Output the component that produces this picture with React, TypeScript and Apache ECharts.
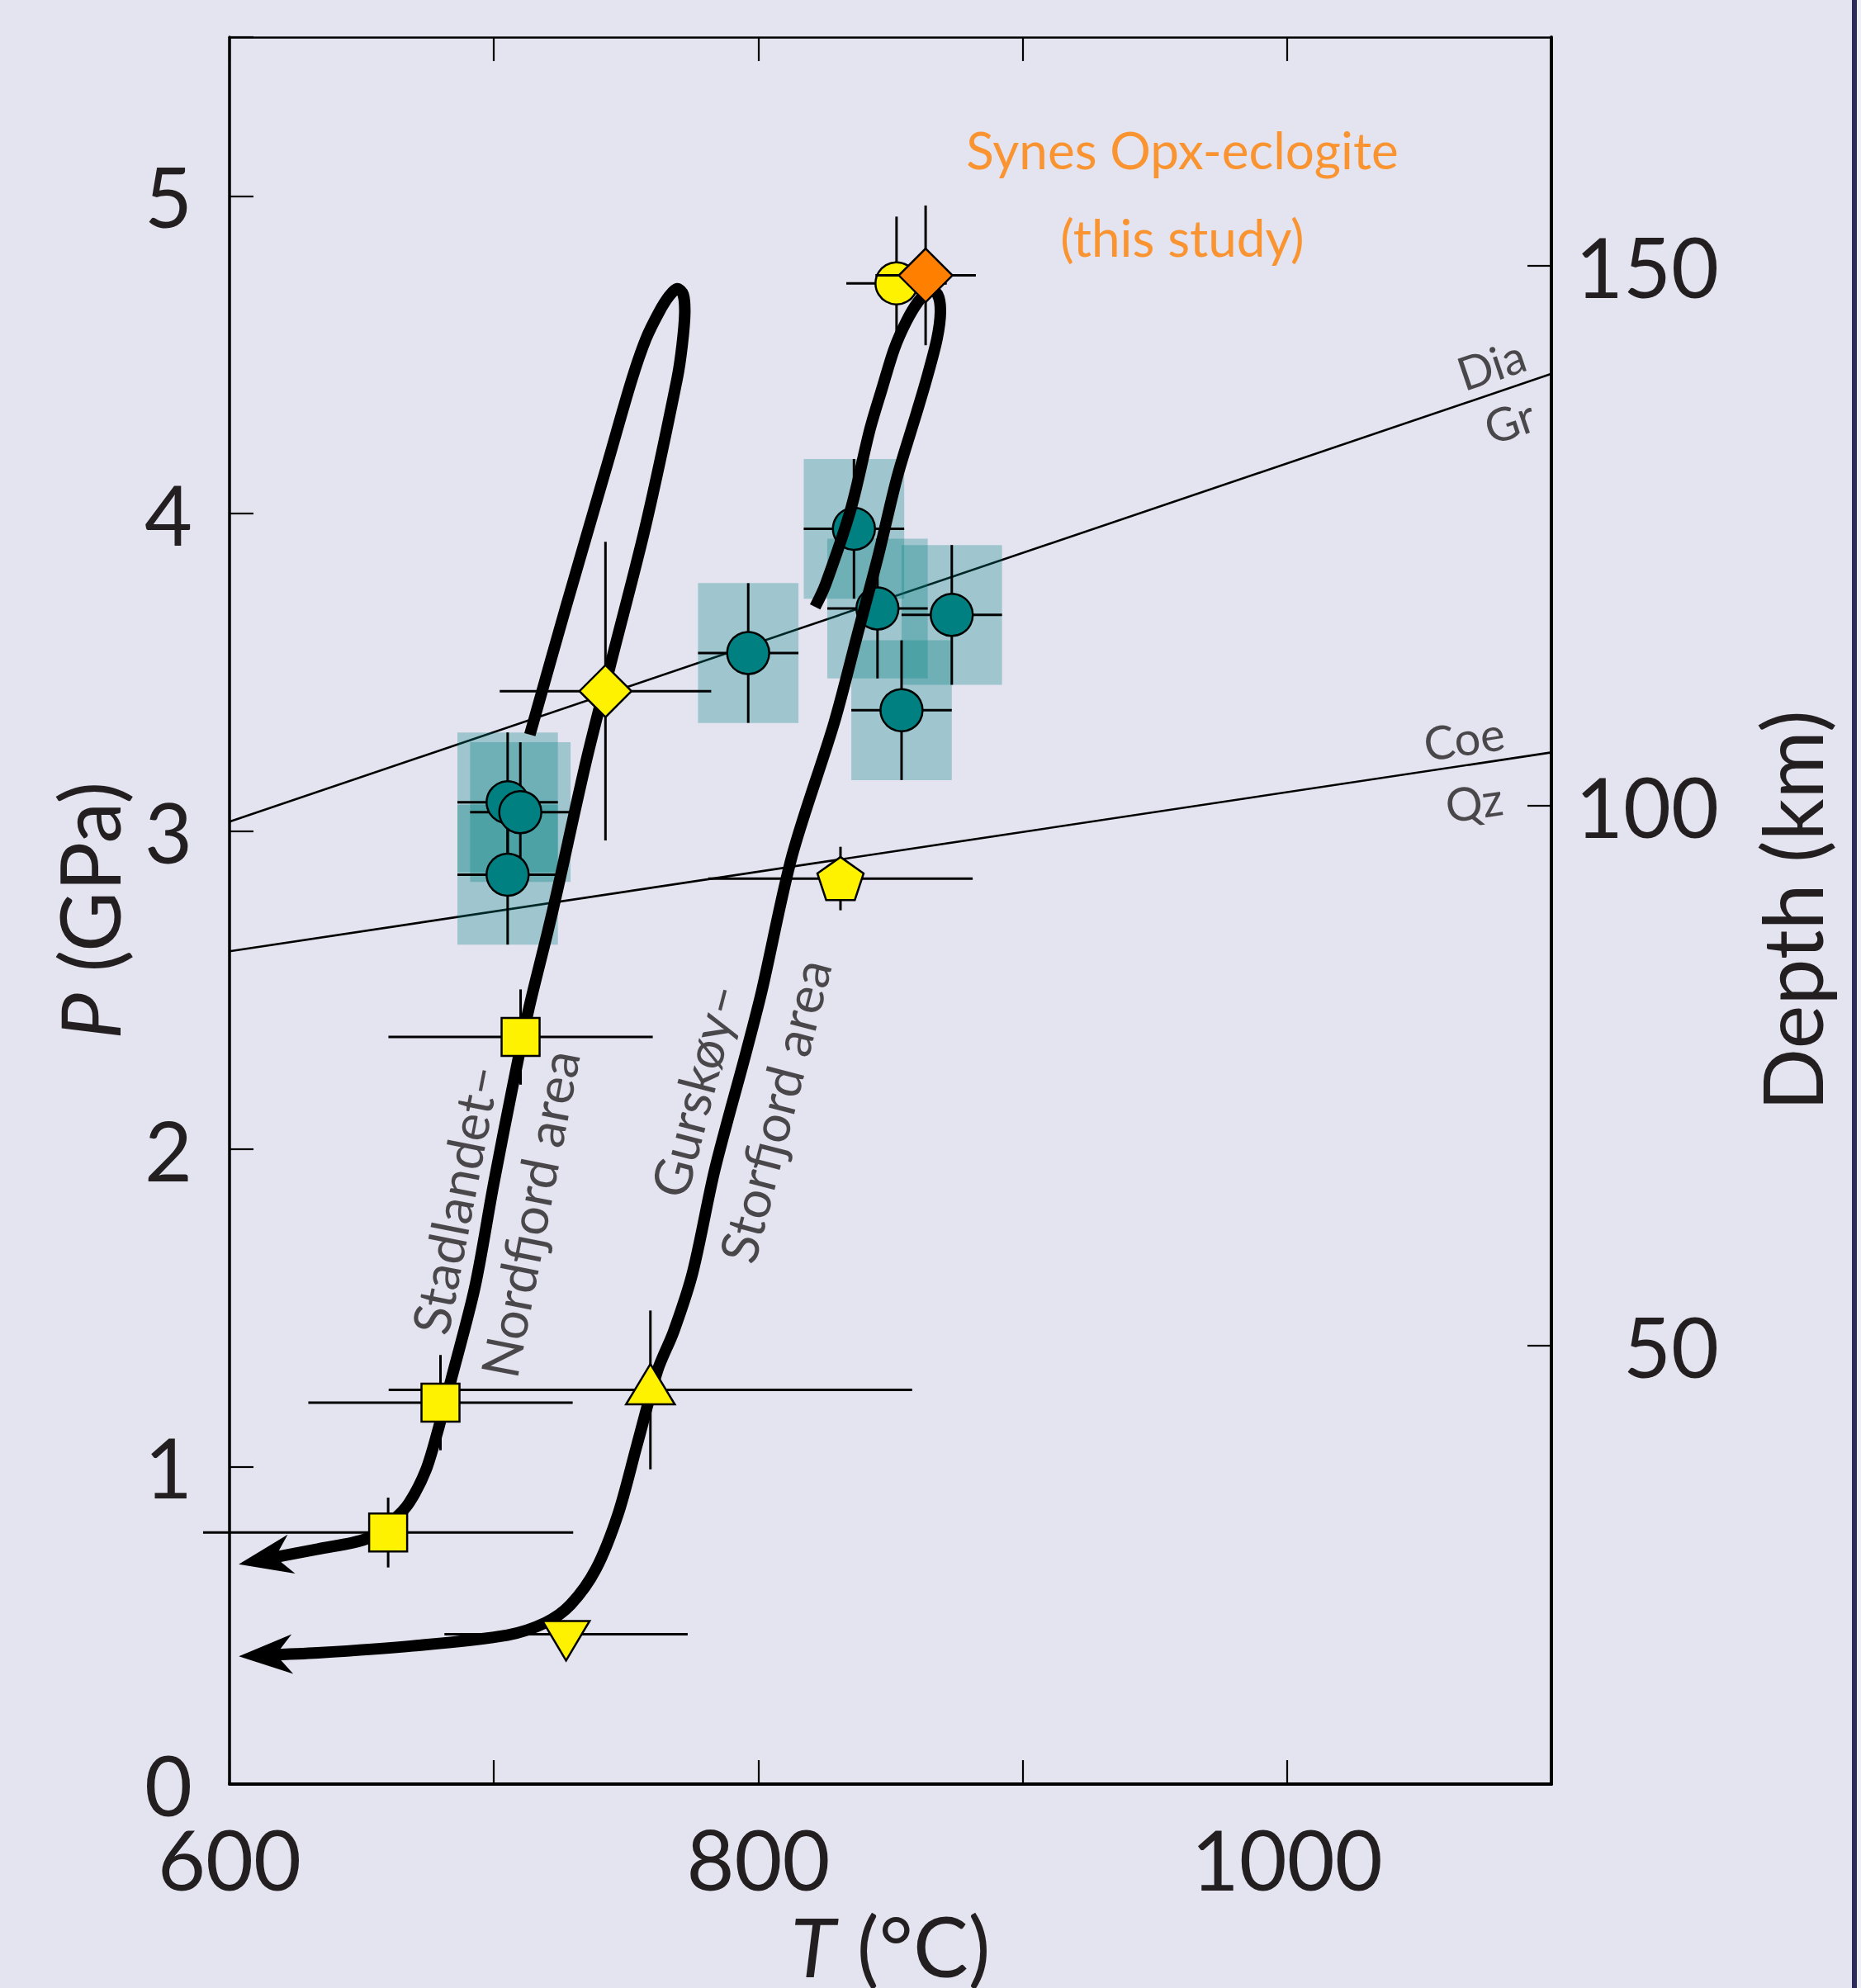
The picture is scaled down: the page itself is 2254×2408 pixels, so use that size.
import React, { useEffect, useRef } from 'react';
import * as echarts from 'echarts';

const WIDTH = 2254;
const HEIGHT = 2408;
const FONT = 'Lato, "Noto Sans", sans-serif';
const INK = '#231F20';
const BG = '#E4E3F0';
const YELLOW = '#FFF200';
const TEAL = '#008080';
const TEAL_BOX = 'rgba(0,128,128,0.3)';
const ORANGE = '#FF7F00';

// ---- axes ----
const T_MIN = 600;
const T_MAX = 1100;
const T_STEP = 100;
const P_MIN = 0;
const P_MAX = 5.5;
const P_STEP = 1;
const DEPTH_TICKS = [50, 100, 150];
const DEPTH_AT_ZERO_P = 9.41; // km
const KM_PER_GPA = 29.41;

// ---- reaction lines ----
const diaGrT = [600, 1100];
const diaGrP = [3.03, 4.44];
const coeQzT = [600, 1100];
const coeQzP = [2.622, 3.248];

// ---- P–T paths (T in °C, P in GPa) ----
const snPathT = [713.6, 727.2, 743.3, 752.1, 757.5, 762.5, 766.3, 769.3, 771.6, 772.2, 771.2, 769.3, 757.4, 744.9, 735.0, 723.9, 720.2, 713.1, 707.1, 699.9, 692.8, 683.6, 679.3, 674.3, 667.9, 662.1, 652.0, 633.4, 613.3];
const snPathP = [3.304, 3.705, 4.167, 4.42, 4.55, 4.635, 4.685, 4.708, 4.69, 4.63, 4.53, 4.424, 3.962, 3.551, 3.224, 2.81, 2.678, 2.437, 2.196, 1.889, 1.564, 1.266, 1.128, 0.989, 0.885, 0.833, 0.773, 0.740, 0.708];
const gsPathT = [821.5, 825.5, 835.1, 842.2, 846.8, 851.5, 856.0, 860.3, 864.6, 867.8, 868.9, 867.6, 863.5, 859.8, 852.6, 845.4, 837.5, 828.7, 812.8, 801.3, 795.5, 783.6, 775.2, 768.0, 762.0, 754.1, 747.0, 738.6, 729.0, 719.5, 705.1, 669.3, 633.4, 613.5];
const gsPathP = [3.706, 3.778, 4.017, 4.264, 4.393, 4.52, 4.605, 4.665, 4.703, 4.69, 4.636, 4.55, 4.419, 4.315, 4.117, 3.868, 3.619, 3.341, 2.923, 2.496, 2.307, 1.936, 1.611, 1.425, 1.305, 1.067, 0.851, 0.677, 0.565, 0.508, 0.469, 0.435, 0.413, 0.406];

// ---- teal estimates (with error boxes) ----
const tealT = [705.2, 710.0, 705.2, 796.2, 836.2, 845.1, 873.2, 854.2];
const tealP = [3.091, 3.060, 2.863, 3.561, 3.952, 3.701, 3.681, 3.381];
const tealDT = [19, 19, 19, 19, 19, 19, 19, 19];
const tealDP = [0.22, 0.22, 0.22, 0.22, 0.22, 0.22, 0.22, 0.22];

// ---- yellow estimates ----
const squareT = [660.0, 679.8, 710.1];
const squareP = [0.792, 1.201, 2.352];
const squareDT = [70, 50, 50];
const squareDP = [0.11, 0.15, 0.15];

const diamondT = [742.2];
const diamondP = [3.441];
const diamondDT = [40];
const diamondDP = [0.47];

const triUpT = [759.2];
const triUpP = [1.241];
const triUpDT = [99];
const triUpDP = [0.25];

const triDownT = [727.3];
const triDownP = [0.472];
const triDownDT = [46];
const triDownDP = [0];

const pentaT = [831.1];
const pentaP = [2.851];
const pentaDT = [50];
const pentaDP = [0.1];

const circleT = [852.3];
const circleP = [4.725];
const circleDT = [19];
const circleDP = [0.21];

// ---- this study ----
const opxT = [863.3];
const opxP = [4.75];
const opxDT = [19];
const opxDP = [0.22];

// ---- annotations ----
const noteText = ['Stadlandet–\nNordfjord area', 'Gurskøy–\nStorfjord area', 'Dia', 'Gr', 'Coe', 'Qz', 'Synes Opx-eclogite\n(this study)'];
const noteT = [699.2, 790.9, 1077.2, 1084.1, 1066.9, 1070.7, 960.4];
const noteP = [1.819, 2.153, 4.471, 4.292, 3.294, 3.094, 5.009];

const PATHS = [
  { T: snPathT, P: snPathP },
  { T: gsPathT, P: gsPathP },
];

const zip = (...arrs: number[][]) => arrs[0].map((_, i) => arrs.map((a) => a[i]));

type Kind = 'circle' | 'square' | 'diamond' | 'triUp' | 'triDown' | 'pentagon';

function markerShape(kind: Kind, cx: number, cy: number, w: number, h: number, fill: string) {
  const style = { fill, stroke: '#000', lineWidth: 2.5 };
  if (kind === 'circle') {
    return { type: 'circle', z2: 2, shape: { cx, cy, r: w / 2 }, style };
  }
  if (kind === 'square') {
    return { type: 'rect', z2: 2, shape: { x: cx - w / 2, y: cy - h / 2, width: w, height: h }, style };
  }
  let pts: number[][] = [];
  if (kind === 'diamond') {
    pts = [[cx, cy - h / 2], [cx + w / 2, cy], [cx, cy + h / 2], [cx - w / 2, cy]];
  } else if (kind === 'triUp') {
    const oy = cy - 7;
    pts = [[cx, oy - h / 2], [cx + w / 2, oy + h / 2], [cx - w / 2, oy + h / 2]];
  } else if (kind === 'triDown') {
    const oy = cy + 8;
    pts = [[cx - w / 2, oy - h / 2], [cx + w / 2, oy - h / 2], [cx, oy + h / 2]];
  } else {
    const raw = [[0, -1], [0.951, -0.309], [0.588, 0.809], [-0.588, 0.809], [-0.951, -0.309]];
    pts = raw.map(([x, y]) => [cx + (x / 1.902) * w, cy + ((y + 0.0955) / 1.809) * h]);
  }
  return { type: 'polygon', z2: 2, shape: { points: pts }, style };
}

function makeRender(kind: Kind | null, w: number, h: number, fill: string) {
  return (params: any, api: any) => {
    const t = api.value(0);
    const p = api.value(1);
    const dt = api.value(2);
    const dp = api.value(3);
    const barStyle = { stroke: '#000', lineWidth: 3 };
    const children: any[] = [];
    if (dt > 0) {
      const l = api.coord([t - dt, p]);
      const r = api.coord([t + dt, p]);
      children.push({ type: 'line', z2: 1, shape: { x1: l[0], y1: l[1], x2: r[0], y2: r[1] }, style: barStyle });
    }
    if (dp > 0) {
      const a = api.coord([t, p + dp]);
      const b = api.coord([t, p - dp]);
      children.push({ type: 'line', z2: 1, shape: { x1: a[0], y1: a[1], x2: b[0], y2: b[1] }, style: barStyle });
    }
    if (kind) {
      const c = api.coord([t, p]);
      children.push(markerShape(kind, c[0], c[1], w, h, fill));
    }
    return { type: 'group', children };
  };
}

function errorBoxes(params: any, api: any) {
  const t = api.value(0);
  const p = api.value(1);
  const dt = api.value(2);
  const dp = api.value(3);
  const a = api.coord([t - dt, p + dp]);
  const b = api.coord([t + dt, p - dp]);
  return {
    type: 'rect',
    shape: { x: a[0], y: a[1], width: b[0] - a[0], height: b[1] - a[1] },
    style: { fill: TEAL_BOX },
  };
}

// Draws one P–T path (thick smoothed polyline) plus its arrowhead at the last point.
function pathRender(params: any, api: any) {
  const path = PATHS[api.value(2)];
  const pts = path.T.map((t, i) => api.coord([t, path.P[i]]));
  const n = pts.length;
  const a = pts[n - 2];
  const b = pts[n - 1];
  const dx = b[0] - a[0];
  const dy = b[1] - a[1];
  const len = Math.hypot(dx, dy) || 1;
  const ux = dx / len;
  const uy = dy / len;
  const nx = -uy;
  const ny = ux;
  const tip = [b[0] + ux * 32, b[1] + uy * 32];
  const p1 = [b[0] - ux * 33 + nx * 24, b[1] - uy * 33 + ny * 24];
  const p2 = [b[0] - ux * 13, b[1] - uy * 13];
  const p3 = [b[0] - ux * 33 - nx * 24, b[1] - uy * 33 - ny * 24];
  return {
    type: 'group',
    children: [
      {
        type: 'polyline',
        shape: { points: pts, smooth: 0.3 },
        style: { stroke: '#000', lineWidth: 14, fill: null, lineJoin: 'round', lineCap: 'butt' },
      },
      { type: 'polygon', shape: { points: [tip, p1, p2, p3] }, style: { fill: '#000' } },
    ],
  };
}

const noteRotate = [79, 75.5, 18.7, 18.7, 8.5, 8.5, 0];
const noteSize = [63, 63, 56, 56, 56, 56, 62];
const noteLineHeight = [92, 100, 60, 60, 60, 60, 106];
const noteColor = [INK, INK, INK, INK, INK, INK, ORANGE];

const markerSeries = (name: string, z: number, kind: Kind, w: number, h: number, fill: string, data: number[][]) => ({
  name,
  type: 'custom',
  z,
  renderItem: makeRender(kind, w, h, fill),
  encode: { x: 0, y: 1 },
  data,
});

export default function App() {
  const ref = useRef<HTMLDivElement>(null);

  useEffect(() => {
    if (!ref.current) return;
    const chart = echarts.init(ref.current, null, { renderer: 'svg' });

    const tickLabel = { fontFamily: FONT, fontSize: 100, color: INK };
    const axisLine = (w: number) => ({ show: true, onZero: false, lineStyle: { color: '#000', width: w } });
    const tick = { show: true, inside: true, length: 29, lineStyle: { color: '#000', width: 2.2 } };

    const option: any = {
      animation: false,
      backgroundColor: BG,
      grid: {
        left: 278,
        right: 375,
        top: 45,
        bottom: 247,
        containLabel: false,
        outerBoundsMode: 'none',
      },
      xAxis: [
        {
          type: 'value',
          min: T_MIN,
          max: T_MAX,
          interval: T_STEP,
          position: 'bottom',
          axisLine: axisLine(4),
          axisTick: tick,
          splitLine: { show: false },
          axisLabel: {
            ...tickLabel,
            margin: 40,
            formatter: (v: number) => (v % 200 === 0 && v < T_MAX ? String(v) : ''),
          },
          name: '{i|T} (°C)',
          nameLocation: 'middle',
          nameGap: 145,
          nameMoveOverlap: false,
          nameTextStyle: {
            ...tickLabel,
            rich: { i: { ...tickLabel, fontStyle: 'italic' } },
          },
        },
        {
          type: 'value',
          min: T_MIN,
          max: T_MAX,
          interval: T_STEP,
          position: 'top',
          axisLine: axisLine(2.5),
          axisTick: tick,
          splitLine: { show: false },
          axisLabel: { show: false },
        },
      ],
      yAxis: [
        {
          type: 'value',
          min: P_MIN,
          max: P_MAX,
          interval: P_STEP,
          position: 'left',
          axisLine: axisLine(3.5),
          axisTick: tick,
          splitLine: { show: false },
          axisLabel: {
            ...tickLabel,
            margin: 45,
            formatter: (v: number) => (Number.isInteger(v) ? String(v) : ''),
          },
          name: '{i|P} (GPa)',
          nameLocation: 'middle',
          nameRotate: 90,
          nameGap: 121,
          nameMoveOverlap: false,
          nameTextStyle: {
            ...tickLabel,
            rich: { i: { ...tickLabel, fontStyle: 'italic' } },
          },
        },
        {
          type: 'value',
          min: DEPTH_AT_ZERO_P,
          max: DEPTH_AT_ZERO_P + KM_PER_GPA * P_MAX,
          position: 'right',
          axisLine: axisLine(4),
          axisTick: { ...tick, customValues: DEPTH_TICKS },
          splitLine: { show: false },
          axisLabel: {
            ...tickLabel,
            align: 'right',
            margin: 203,
            customValues: DEPTH_TICKS,
          },
          name: 'Depth (km)',
          nameLocation: 'middle',
          nameRotate: 90,
          nameGap: 240,
          nameMoveOverlap: false,
          nameTextStyle: { ...tickLabel },
        },
      ],
      graphic: [
        { type: 'rect', shape: { x: 2243, y: 0, width: 6, height: HEIGHT }, style: { fill: '#2B2A5C' } },
        { type: 'rect', shape: { x: 2249, y: 0, width: 5, height: HEIGHT }, style: { fill: '#EFEFF8' } },
      ],
      series: [
        {
          name: 'Dia–Gr',
          type: 'line',
          z: 1,
          symbol: 'none',
          data: zip(diaGrT, diaGrP),
          lineStyle: { color: '#000', width: 2.6 },
        },
        {
          name: 'Coe–Qz',
          type: 'line',
          z: 1,
          symbol: 'none',
          data: zip(coeQzT, coeQzP),
          lineStyle: { color: '#000', width: 2.6 },
        },
        {
          name: 'teal boxes',
          type: 'custom',
          z: 2,
          renderItem: errorBoxes,
          encode: { x: 0, y: 1 },
          data: zip(tealT, tealP, tealDT, tealDP),
        },
        markerSeries('teal', 4, 'circle', 51, 51, TEAL, zip(tealT, tealP, tealDT, tealDP)),
        {
          name: 'P–T paths',
          type: 'custom',
          z: 6,
          renderItem: pathRender,
          encode: { x: 0, y: 1 },
          data: PATHS.map((p, i) => [p.T[0], p.P[0], i]),
        },
        markerSeries('squares', 7, 'square', 46, 46, YELLOW, zip(squareT, squareP, squareDT, squareDP)),
        markerSeries('diamond', 7, 'diamond', 63, 63, YELLOW, zip(diamondT, diamondP, diamondDT, diamondDP)),
        markerSeries('triangle', 7, 'triUp', 59, 49, YELLOW, zip(triUpT, triUpP, triUpDT, triUpDP)),
        markerSeries('inverted triangle', 7, 'triDown', 57, 48, YELLOW, zip(triDownT, triDownP, triDownDT, triDownDP)),
        markerSeries('pentagon', 7, 'pentagon', 56, 52, YELLOW, zip(pentaT, pentaP, pentaDT, pentaDP)),
        markerSeries('circle', 7, 'circle', 51, 51, YELLOW, zip(circleT, circleP, circleDT, circleDP)),
        markerSeries('Synes Opx-eclogite', 8, 'diamond', 65, 65, ORANGE, zip(opxT, opxP, opxDT, opxDP)),
        {
          name: 'notes',
          type: 'scatter',
          z: 10,
          symbol: 'circle',
          symbolSize: 1,
          silent: true,
          itemStyle: { color: 'rgba(0,0,0,0)' },
          data: noteText.map((txt, i) => ({
            value: [noteT[i], noteP[i]],
            label: {
              show: true,
              position: 'inside',
              formatter: txt,
              rotate: noteRotate[i],
              fontFamily: FONT,
              fontSize: noteSize[i],
              lineHeight: noteLineHeight[i],
              color: noteColor[i],
              align: 'center',
              verticalAlign: 'middle',
            },
          })),
        },
      ],
    };

    chart.setOption(option);
    return () => chart.dispose();
  }, []);

  return (
    <div
      ref={ref}
      style={{ position: 'absolute', left: 0, top: 0, width: WIDTH, height: HEIGHT }}
    />
  );
}
